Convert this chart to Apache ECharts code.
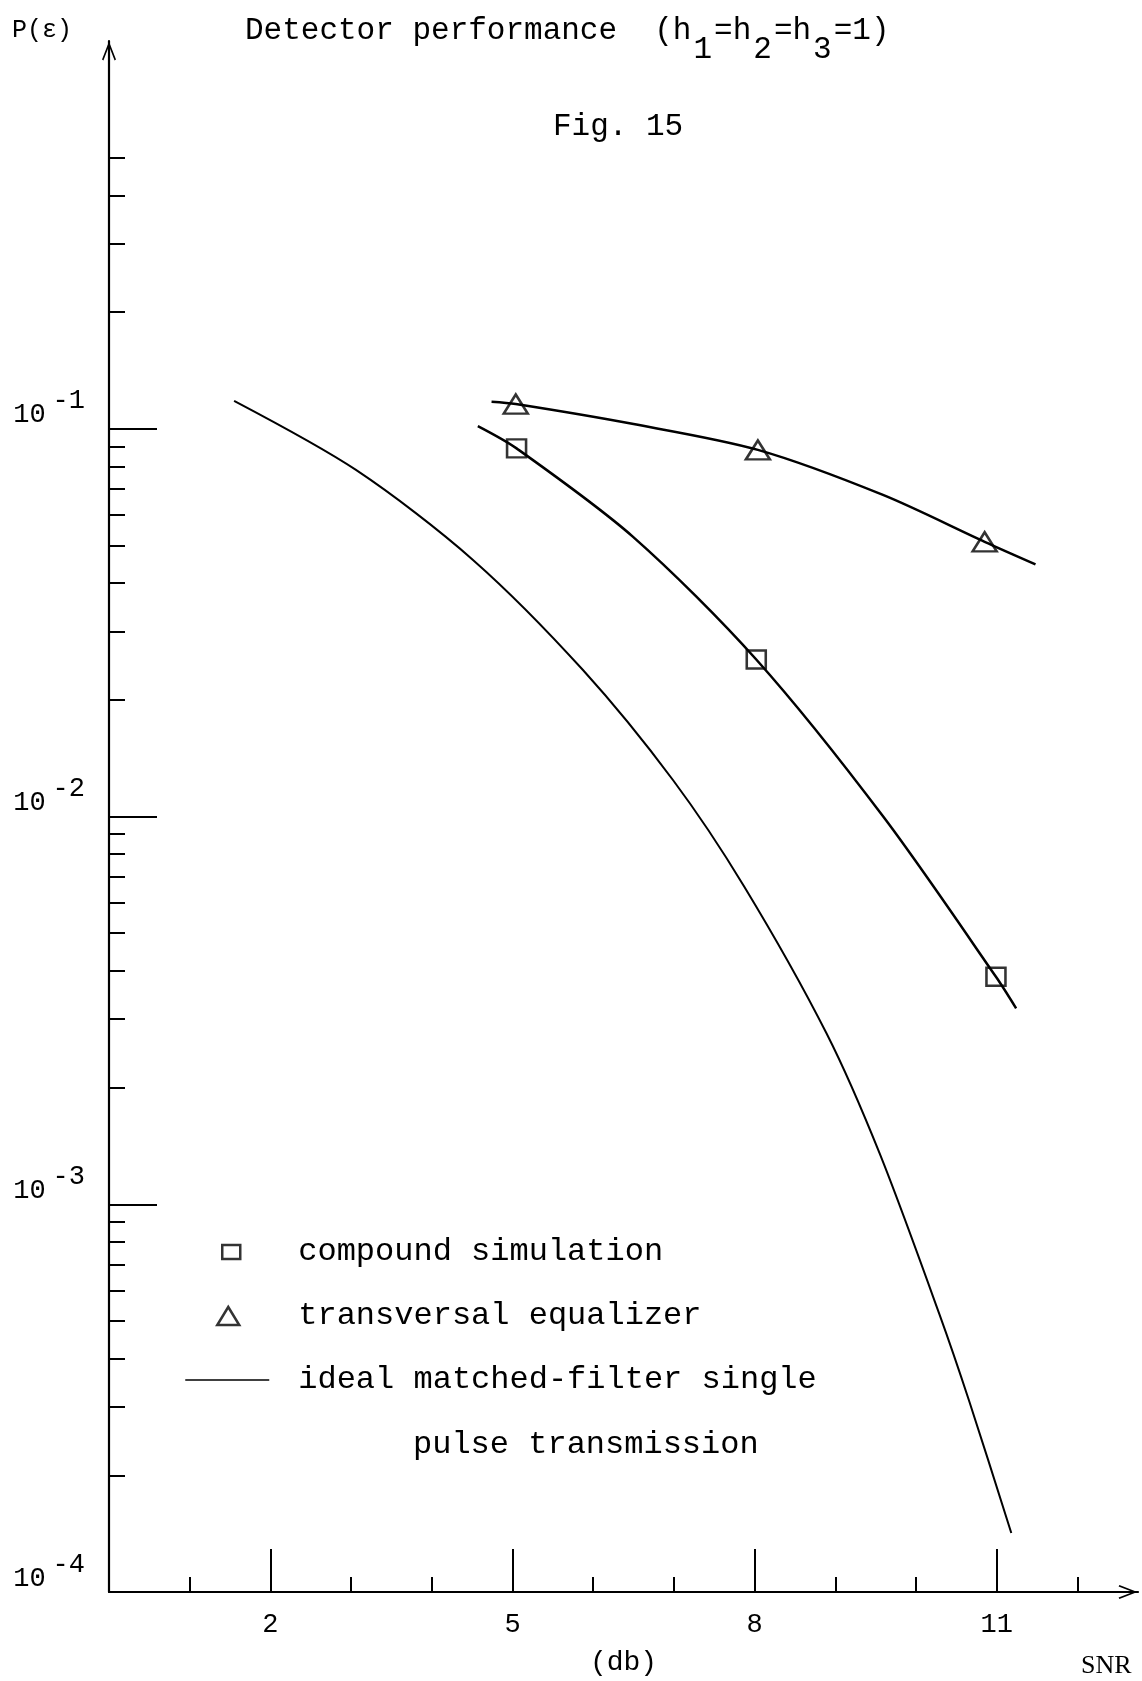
<!DOCTYPE html>
<html>
<head>
<meta charset="utf-8">
<script src="https://cdn.jsdelivr.net/npm/echarts@6/dist/echarts.min.js"></script>
<style>
html,body{margin:0;padding:0;background:#fff;}
#chart{width:1142px;height:1681px;}
</style>
</head>
<body>
<div id="chart"></div>
<script>
// ---- data (SNR in dB, error probability) ----
const idealX = [1.55, 3.06, 4.51, 5.87, 6.99, 7.87, 8.89, 9.55, 10.29, 10.66, 11.18];
const idealY = [0.118, 0.0783, 0.0459, 0.0239, 0.0124, 0.0066, 0.00276, 0.00135, 0.00052, 0.00031, 0.000142];

const compoundLineX = [4.57, 5.05, 6.49, 8.02, 9.6, 10.99, 11.24];
const compoundLineY = [0.1016, 0.089, 0.0527, 0.0254, 0.00995, 0.00386, 0.0032];
const compoundX = [5.05, 8.02, 10.99];
const compoundY = [0.089, 0.0254, 0.00386];

const transLineX = [4.74, 5.04, 6.5, 8.04, 9.59, 10.85, 11.48];
const transLineY = [0.1174, 0.1158, 0.1028, 0.0882, 0.0675, 0.0511, 0.0447];
const transX = [5.04, 8.04, 10.85];
const transY = [0.1158, 0.0882, 0.0511];

// ---- ticks / labels ----
const xTickLabels = [2, 5, 8, 11];
const xMajorTicks = [2, 5, 8, 11];
const xMinorTicks = [1, 3, 4, 6, 7, 9, 10, 12];
const yMajorTicks = [1e-4, 1e-3, 1e-2, 1e-1];
const yMinorTicks = [2e-4, 3e-4, 4e-4, 5e-4, 6e-4, 7e-4, 8e-4, 9e-4,
                     2e-3, 3e-3, 4e-3, 5e-3, 6e-3, 7e-3, 8e-3, 9e-3,
                     2e-2, 3e-2, 4e-2, 5e-2, 6e-2, 7e-2, 8e-2, 9e-2,
                     0.2, 0.3, 0.4, 0.5];

const MONO = '"Liberation Mono", "DejaVu Sans Mono", monospace';
const SERIF = '"Liberation Serif", "DejaVu Serif", serif';
const BLACK = '#000';
const ARROW = 'path://M0,0 L7,18 L5.6,18.8 L0,4.5 L-5.6,18.8 L-7,18 Z';

// legend icons (84 x 18 box, drawn where the hand-made key puts them)
const ICON_SQUARE = 'path://M0,0 M84,18 M37,2 L55,2 L55,16 L37,16 Z';
const ICON_TRIANGLE = 'path://M0,0 M84,18 M43,0 L54,18 L32,18 Z';
const ICON_LINE = 'path://M0,0 M84,18 M0,8.2 L84,8.2 L84,9.8 L0,9.8 Z';

function pairs(xs, ys) { return xs.map((x, i) => [x, ys[i]]); }

const chart = echarts.init(document.getElementById('chart'), null, {renderer: 'canvas'});

const tickLine = {color: BLACK, width: 2};
const hollow = {color: 'rgba(0,0,0,0)', borderColor: BLACK, borderWidth: 2.5};

const option = {
  backgroundColor: '#fff',
  animation: false,
  title: [
    {
      text: '{t|Detector performance  (h}{s|1}{t|=h}{s|2}{t|=h}{s|3}{t|=1)}',
      left: 245, top: 15, padding: 0,
      textStyle: {
        fontWeight: 'normal',
        rich: {
          t: {fontFamily: MONO, fontSize: 31, fontWeight: 'normal', color: BLACK, lineHeight: 31, verticalAlign: 'top'},
          s: {fontFamily: MONO, fontSize: 31, fontWeight: 'normal', color: BLACK, lineHeight: 31, verticalAlign: 'top', padding: [19, 2, 0, 2]}
        }
      }
    },
    {
      text: 'Fig. 15',
      left: 553, top: 111, padding: 0,
      textStyle: {fontFamily: MONO, fontSize: 31, fontWeight: 'normal', color: BLACK, lineHeight: 31}
    }
  ],
  grid: {left: 109, right: 4, top: 41, bottom: 89, containLabel: false, outerBoundsMode: 'none'},
  legend: {
    show: true,
    orient: 'vertical',
    left: 184, top: 1234, padding: 0,
    itemWidth: 84, itemHeight: 18, itemGap: 28,
    selectedMode: false,
    symbolKeepAspect: true,
    textStyle: {fontFamily: MONO, fontSize: 32, color: BLACK, lineHeight: 36, padding: [0, 0, 0, 24]},
    data: [
      {name: 'compound simulation', icon: ICON_SQUARE, itemStyle: hollow},
      {name: 'transversal equalizer', icon: ICON_TRIANGLE, itemStyle: hollow},
      {name: 'ideal matched-filter single', icon: ICON_LINE, itemStyle: {color: BLACK, borderWidth: 0}}
    ]
  },
  xAxis: [
    {
      type: 'value', position: 'bottom', min: 0, max: 12.75,
      name: '(db)', nameLocation: 'middle', nameGap: 57,
      nameTextStyle: {fontFamily: MONO, fontSize: 28, color: BLACK},
      axisLine: {show: true, lineStyle: {color: BLACK, width: 2.2}, symbol: ['none', ARROW], symbolSize: [14, 20], symbolOffset: [0, -10]},
      axisTick: {show: true, inside: true, length: 43, customValues: xMajorTicks, lineStyle: tickLine},
      axisLabel: {show: true, customValues: xTickLabels, margin: 19, fontFamily: MONO, fontSize: 27, color: BLACK, lineHeight: 28},
      splitLine: {show: false}
    },
    {
      type: 'value', position: 'bottom', min: 0, max: 12.75,
      axisLine: {show: false},
      axisTick: {show: true, inside: true, length: 15, customValues: xMinorTicks, lineStyle: tickLine},
      axisLabel: {show: false},
      splitLine: {show: false}
    }
  ],
  yAxis: [
    {
      type: 'log', logBase: 10, position: 'left', min: 1e-4, max: 1,
      name: 'P(ε)', nameLocation: 'end', nameGap: 11,
      nameTextStyle: {fontFamily: MONO, fontSize: 25, color: BLACK, align: 'right', verticalAlign: 'middle', padding: [0, 37, 0, 0]},
      axisLine: {show: true, lineStyle: {color: BLACK, width: 2.2}, symbol: ['none', ARROW], symbolSize: [14, 20], symbolOffset: [0, -10]},
      axisTick: {show: true, inside: true, length: 48, customValues: yMajorTicks, lineStyle: tickLine},
      axisLabel: {
        show: true, margin: 24, verticalAlign: 'bottom', align: 'right',
        formatter: function (v) {
          const e = Math.round(Math.log10(v));
          if (e >= 0) return '';
          return '{b|10}{s|-' + (-e) + '}';
        },
        rich: {
          b: {fontFamily: MONO, fontSize: 27, color: BLACK, lineHeight: 21, verticalAlign: 'bottom'},
          s: {fontFamily: MONO, fontSize: 27, color: BLACK, lineHeight: 21, verticalAlign: 'bottom', padding: [0, 0, 14, 7]}
        }
      },
      splitLine: {show: false},
      minorTick: {show: false}
    },
    {
      type: 'log', logBase: 10, position: 'left', min: 1e-4, max: 1,
      axisLine: {show: false},
      axisTick: {show: true, inside: true, length: 16, customValues: yMinorTicks, lineStyle: tickLine},
      axisLabel: {show: false},
      splitLine: {show: false}
    }
  ],
  series: [
    {
      name: 'ideal matched-filter single', type: 'line',
      data: pairs(idealX, idealY), smooth: 0.3, symbol: 'none',
      lineStyle: {color: BLACK, width: 2}, itemStyle: {color: BLACK}
    },
    {
      name: 'compound simulation curve', type: 'line',
      data: pairs(compoundLineX, compoundLineY), smooth: 0.3, symbol: 'none',
      lineStyle: {color: BLACK, width: 2.5}, itemStyle: {color: BLACK}
    },
    {
      name: 'transversal equalizer curve', type: 'line',
      data: pairs(transLineX, transLineY), smooth: 0.3, symbol: 'none',
      lineStyle: {color: BLACK, width: 2.5}, itemStyle: {color: BLACK}
    },
    {
      name: 'compound simulation', type: 'scatter',
      data: pairs(compoundX, compoundY), symbol: 'rect', symbolSize: [19, 18],
      itemStyle: hollow, z: 5
    },
    {
      name: 'transversal equalizer', type: 'scatter',
      data: pairs(transX, transY), symbol: 'triangle', symbolSize: [24, 19],
      itemStyle: hollow, z: 5
    }
  ],
  graphic: [
    {type: 'text', left: 413, top: 1429, style: {text: 'pulse transmission', font: '32px ' + MONO, fill: BLACK}},
    {type: 'text', left: 1081, top: 1653, style: {text: 'SNR', font: '26px ' + SERIF, fill: BLACK}}
  ]
};

chart.setOption(option);
</script>
</body>
</html>
